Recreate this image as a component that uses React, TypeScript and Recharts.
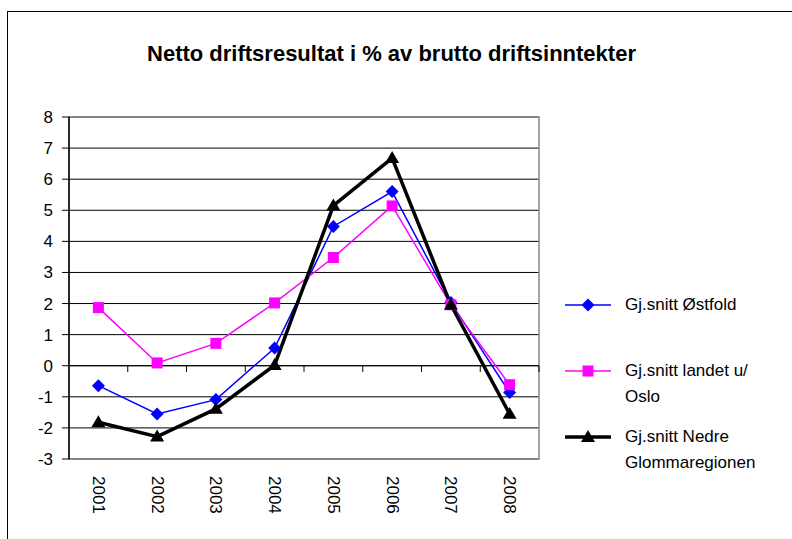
import React from "react";
import {
  LineChart,
  Line,
  XAxis,
  YAxis,
  CartesianGrid,
  ReferenceLine,
  ReferenceArea,
} from "recharts";

const years = [2001, 2002, 2003, 2004, 2005, 2006, 2007, 2008];
const ostfold = [-0.64, -1.55, -1.09, 0.57, 4.48, 5.6, 2.03, -0.86];
const landet = [1.87, 0.09, 0.72, 2.02, 3.48, 5.14, 1.96, -0.61];
const nedre = [-1.82, -2.28, -1.39, 0.02, 5.15, 6.68, 1.96, -1.55];
const yTicks = [-3, -2, -1, 0, 1, 2, 3, 4, 5, 6, 7, 8];

const data = years.map((year, i) => ({
  year,
  ostfold: ostfold[i],
  landet: landet[i],
  nedre: nedre[i],
}));

const FONT = "'Liberation Sans', Arial, sans-serif";

type Shape = "diamond" | "square" | "triangle";

function Marker({ cx, cy, shape, color }: { cx: number; cy: number; shape: Shape; color: string }) {
  if (cx == null || cy == null) return null;
  if (shape === "diamond") {
    const r = 6.5;
    return <polygon points={`${cx},${cy - r} ${cx + r},${cy} ${cx},${cy + r} ${cx - r},${cy}`} fill={color} />;
  }
  if (shape === "square") {
    const r = 5.5;
    return <rect x={cx - r} y={cy - r} width={r * 2} height={r * 2} fill={color} />;
  }
  const r = 7;
  return (
    <polygon
      points={`${cx},${cy - r} ${cx + r},${cy + r * 0.7} ${cx - r},${cy + r * 0.7}`}
      fill={color}
    />
  );
}

const dotFor = (shape: Shape, color: string) => (props: any) =>
  <Marker key={`${shape}-${props.index}`} cx={props.cx} cy={props.cy} shape={shape} color={color} />;

const seriesInfo = [
  { key: "ostfold", name: "Gj.snitt Østfold", color: "#0000FF", width: 1.5, shape: "diamond" as Shape },
  { key: "landet", name: "Gj.snitt landet u/ Oslo", color: "#FF00FF", width: 1.5, shape: "square" as Shape },
  { key: "nedre", name: "Gj.snitt Nedre Glommaregionen", color: "#000000", width: 3.5, shape: "triangle" as Shape },
];

function YearTick({ x, y, payload }: any) {
  return (
    <text
      x={x}
      y={y}
      transform={`rotate(90, ${x}, ${y})`}
      textAnchor="start"
      dominantBaseline="central"
      fontFamily={FONT}
      fontSize={17}
      fill="#000"
    >
      {payload.value}
    </text>
  );
}

function LegendBox() {
  return (
    <div
      style={{
        position: "absolute",
        left: 563,
        top: 292,
        fontFamily: FONT,
        fontSize: 17,
        color: "#000",
      }}
    >
      {seriesInfo.map((s) => (
        <div key={s.key} style={{ display: "flex", height: 66, alignItems: "flex-start" }}>
          <svg width={50} height={26} style={{ flex: "none" }}>
            <line x1={2} y1={13} x2={48} y2={13} stroke={s.color} strokeWidth={s.width} />
            <Marker cx={25} cy={13} shape={s.shape} color={s.color} />
          </svg>
          <div style={{ marginLeft: 12, width: 160, lineHeight: "26px" }}>{s.name}</div>
        </div>
      ))}
    </div>
  );
}

const boundaries = [2001.5, 2002.5, 2003.5, 2004.5, 2005.5, 2006.5, 2007.5, 2008.5];

export default function App() {
  return (
    <div style={{ position: "absolute", left: 0, top: 0, width: 792, height: 539, background: "#fff", overflow: "hidden" }}>
      <div
        style={{
          position: "absolute",
          left: 7,
          top: 11,
          width: 800,
          height: 540,
          border: "1.5px solid #000",
        }}
      />
      <div
        style={{
          position: "absolute",
          left: 0,
          top: 41,
          width: 783,
          textAlign: "center",
          fontFamily: FONT,
          fontWeight: "bold",
          fontSize: 22,
        }}
      >
        Netto driftsresultat i % av brutto driftsinntekter
      </div>
      <div style={{ position: "absolute", left: 0, top: 0 }}>
        <LineChart
          width={792}
          height={539}
          data={data}
          margin={{ top: 117, right: 253, bottom: 10, left: 0 }}
        >
          <CartesianGrid horizontal vertical={false} stroke="#000" strokeWidth={1} />
          <XAxis
            dataKey="year"
            type="number"
            domain={[2000.5, 2008.5]}
            ticks={years}
            axisLine={false}
            tickLine={false}
            height={70}
            tick={<YearTick />}
            tickMargin={11}
            interval={0}
          />
          <YAxis
            domain={[-3, 8]}
            ticks={yTicks}
            width={69}
            interval={0}
            axisLine={{ stroke: "#000", strokeWidth: 1.5 }}
            tickLine={{ stroke: "#000" }}
            tickSize={7}
            tickMargin={9}
            tick={{ fill: "#000", fontFamily: FONT, fontSize: 17 }}
          />
          <ReferenceArea
            x1={2000.5}
            x2={2008.5}
            y1={-3}
            y2={8}
            fill="none"
            stroke="#888"
            strokeWidth={1.5}
          />
          <ReferenceLine y={0} stroke="#000" strokeWidth={1} />
          {boundaries.map((b) => (
            <ReferenceLine
              key={b}
              segment={[
                { x: b, y: 0 },
                { x: b, y: -0.2 },
              ]}
              stroke="#000"
            />
          ))}
          {seriesInfo.map((s) => (
            <Line
              key={s.key}
              type="linear"
              dataKey={s.key}
              name={s.name}
              stroke={s.color}
              strokeWidth={s.width}
              dot={dotFor(s.shape, s.color)}
              activeDot={false}
              isAnimationActive={false}
            />
          ))}
        </LineChart>
      </div>
      <LegendBox />
    </div>
  );
}
